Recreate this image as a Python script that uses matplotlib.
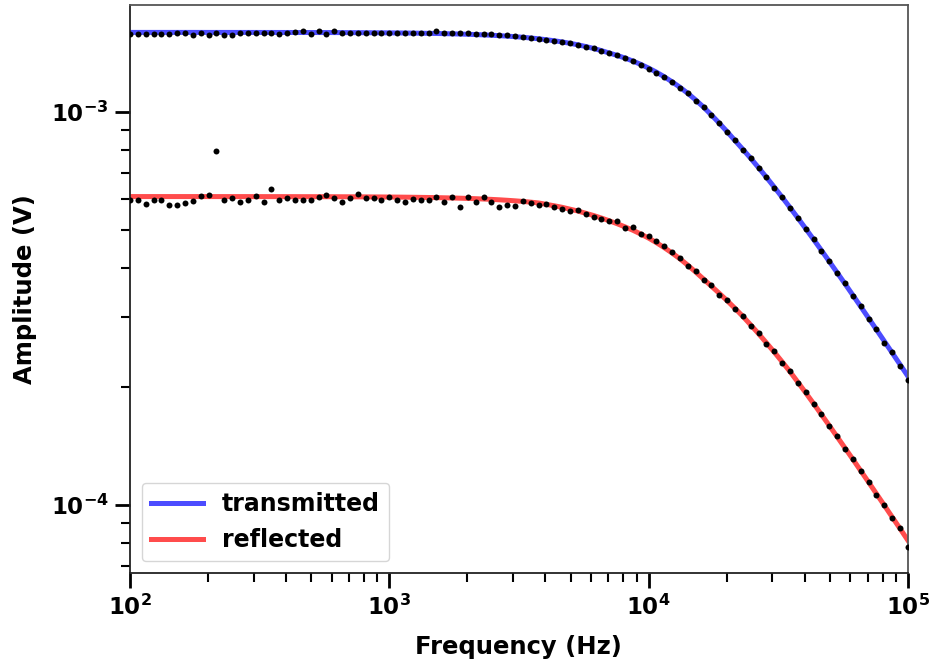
import matplotlib
matplotlib.use("Agg")
import matplotlib.pyplot as plt
from matplotlib.ticker import NullFormatter

# ── Measured sweep (Hz) and amplitudes (mV) ─────────────────────────────────
freq_hz = [
    100.0, 107.2, 115.0, 123.3, 132.2, 141.7, 152.0, 163.0, 174.8, 187.4,
    200.9, 215.4, 231.0, 247.7, 265.6, 284.8, 305.4, 327.5, 351.1, 376.5,
    403.7, 432.9, 464.2, 497.7, 533.7, 572.2, 613.6, 657.9, 705.5, 756.5,
    811.1, 869.7, 932.6, 1000, 1072, 1150, 1233, 1322, 1417, 1520,
    1630, 1748, 1874, 2009, 2154, 2310, 2477, 2656, 2848, 3054,
    3275, 3511, 3765, 4037, 4329, 4642, 4977, 5337, 5722, 6136,
    6579, 7055, 7565, 8111, 8697, 9326, 10000, 10723, 11498, 12328,
    13219, 14175, 15199, 16298, 17475, 18738, 20092, 21544, 23101, 24771,
    26561, 28480, 30539, 32745, 35112, 37649, 40370, 43288, 46416, 49770,
    53367, 57224, 61359, 65793, 70548, 75646, 81113, 86975, 93260, 100000,
]

transmitted_mv = [
    1.573, 1.573, 1.573, 1.573, 1.573, 1.573, 1.585, 1.585, 1.570, 1.583,
    1.568, 1.588, 1.568, 1.570, 1.582, 1.582, 1.580, 1.582, 1.580, 1.578,
    1.582, 1.590, 1.605, 1.575, 1.602, 1.572, 1.600, 1.582, 1.580, 1.582,
    1.580, 1.582, 1.580, 1.582, 1.583, 1.583, 1.583, 1.582, 1.583, 1.600,
    1.584, 1.583, 1.582, 1.580, 1.578, 1.575, 1.572, 1.568, 1.562, 1.553,
    1.550, 1.540, 1.534, 1.522, 1.515, 1.500, 1.495, 1.476, 1.463, 1.449,
    1.428, 1.413, 1.395, 1.366, 1.345, 1.316, 1.287, 1.257, 1.222, 1.193,
    1.150, 1.116, 1.067, 1.029, 0.978, 0.937, 0.886, 0.846, 0.799, 0.763,
    0.718, 0.683, 0.641, 0.608, 0.569, 0.538, 0.502, 0.475, 0.442, 0.418,
    0.388, 0.366, 0.340, 0.321, 0.297, 0.280, 0.259, 0.245, 0.226, 0.2085,
]

reflected_mv = [
    0.597, 0.597, 0.583, 0.597, 0.597, 0.578, 0.578, 0.586, 0.592, 0.611,
    0.615, 0.796, 0.597, 0.604, 0.590, 0.597, 0.611, 0.590, 0.636, 0.597,
    0.604, 0.597, 0.597, 0.597, 0.606, 0.613, 0.604, 0.588, 0.604, 0.618,
    0.604, 0.604, 0.597, 0.606, 0.597, 0.590, 0.599, 0.597, 0.597, 0.606,
    0.590, 0.606, 0.572, 0.606, 0.590, 0.606, 0.590, 0.572, 0.578, 0.576,
    0.592, 0.586, 0.578, 0.581, 0.574, 0.567, 0.558, 0.562, 0.550, 0.539,
    0.533, 0.527, 0.528, 0.507, 0.509, 0.489, 0.483, 0.468, 0.455, 0.441,
    0.424, 0.405, 0.393, 0.373, 0.362, 0.343, 0.332, 0.315, 0.303, 0.286,
    0.274, 0.257, 0.246, 0.230, 0.2195, 0.2045, 0.1938, 0.1805, 0.1706, 0.1586,
    0.1498, 0.1391, 0.1313, 0.1218, 0.1148, 0.1064, 0.1003, 0.0929, 0.0875, 0.0782,
]

# ── Fitted low-pass curves (mV), same frequencies ───────────────────────────
transmitted_fit_mv = [
    1.5900, 1.5900, 1.5900, 1.5900, 1.5900, 1.5900, 1.5900, 1.5900, 1.5900, 1.5899,
    1.5898, 1.5898, 1.5898, 1.5897, 1.5897, 1.5897, 1.5896, 1.5895, 1.5895, 1.5894,
    1.5893, 1.5892, 1.5891, 1.5889, 1.5888, 1.5886, 1.5884, 1.5881, 1.5878, 1.5875,
    1.5871, 1.5867, 1.5862, 1.5857, 1.5850, 1.5843, 1.5834, 1.5824, 1.5813, 1.5800,
    1.5785, 1.5768, 1.5749, 1.5727, 1.5701, 1.5672, 1.5639, 1.5601, 1.5558, 1.5508,
    1.5452, 1.5388, 1.5316, 1.5233, 1.5141, 1.5036, 1.4918, 1.4787, 1.4639, 1.4475,
    1.4293, 1.4092, 1.3899, 1.3684, 1.3446, 1.3187, 1.2904, 1.2599, 1.2262, 1.1905,
    1.1531, 1.1130, 1.0707, 1.0265, 0.9807, 0.9350, 0.8895, 0.8443, 0.8022, 0.7609,
    0.7204, 0.6810, 0.6429, 0.6060, 0.5706, 0.5367, 0.5043, 0.4734, 0.4441, 0.4162,
    0.3899, 0.3651, 0.3417, 0.3196, 0.2988, 0.2793, 0.2610, 0.2439, 0.2278, 0.2127,
]

reflected_fit_mv = [
    0.6085, 0.6085, 0.6085, 0.6085, 0.6085, 0.6085, 0.6085, 0.6085, 0.6085, 0.6085,
    0.6084, 0.6084, 0.6084, 0.6084, 0.6084, 0.6084, 0.6083, 0.6083, 0.6083, 0.6083,
    0.6082, 0.6082, 0.6081, 0.6081, 0.6080, 0.6080, 0.6079, 0.6078, 0.6077, 0.6075,
    0.6074, 0.6072, 0.6071, 0.6068, 0.6066, 0.6063, 0.6060, 0.6056, 0.6052, 0.6047,
    0.6041, 0.6035, 0.6027, 0.6019, 0.6009, 0.5998, 0.5985, 0.5971, 0.5954, 0.5935,
    0.5914, 0.5889, 0.5861, 0.5813, 0.5765, 0.5714, 0.5652, 0.5591, 0.5519, 0.5446,
    0.5366, 0.5280, 0.5191, 0.5096, 0.4997, 0.4887, 0.4773, 0.4646, 0.4512, 0.4372,
    0.4226, 0.4071, 0.3912, 0.3754, 0.3601, 0.3454, 0.3309, 0.3163, 0.3018, 0.2871,
    0.2727, 0.2585, 0.2448, 0.2314, 0.2184, 0.2054, 0.1930, 0.1812, 0.1699, 0.1593,
    0.1492, 0.1397, 0.1308, 0.1223, 0.1144, 0.1069, 0.0999, 0.0933, 0.0872, 0.0814,
]

MV = 1e-3
plt.rcParams.update({
    "font.family": "DejaVu Sans",
    "font.weight": "bold",
    "axes.labelweight": "bold",
})

fig = plt.figure(figsize=(9.35, 6.64), dpi=100)
ax = fig.add_axes([0.139, 0.137, 0.832, 0.8555])

ax.plot(freq_hz, [v * MV for v in transmitted_fit_mv], color="blue", alpha=0.7,
        lw=3.6, label="transmitted", zorder=2)
ax.plot(freq_hz, [v * MV for v in reflected_fit_mv], color="red", alpha=0.7,
        lw=3.6, label="reflected", zorder=2)
ax.plot(freq_hz, [v * MV for v in transmitted_mv], "o", color="black", ms=4.3,
        mew=0, zorder=3)
ax.plot(freq_hz, [v * MV for v in reflected_mv], "o", color="black", ms=4.3,
        mew=0, zorder=3)

ax.set_xscale("log")
ax.set_yscale("log")
ax.set_xlim(1e2, 1e5)
ax.yaxis.set_minor_formatter(NullFormatter())

ax.set_xlabel("Frequency (Hz)", fontsize=17.5, labelpad=11)
ax.set_ylabel("Amplitude (V)", fontsize=17.5, labelpad=10)
ax.tick_params(which="major", labelsize=16.5, length=10.5, width=2.0,
               color="black", pad=5)
ax.tick_params(which="minor", length=6.5, width=1.5, color="black")
for side in ("left", "bottom"):
    ax.spines[side].set_linewidth(1.3)
    ax.spines[side].set_color("#222222")
for side in ("top", "right"):
    ax.spines[side].set_linewidth(1.3)
    ax.spines[side].set_color("#555555")

ax.legend(loc="lower left", fontsize=17, handlelength=2.2, framealpha=0.8)

fig.savefig("out.png", dpi=100)
